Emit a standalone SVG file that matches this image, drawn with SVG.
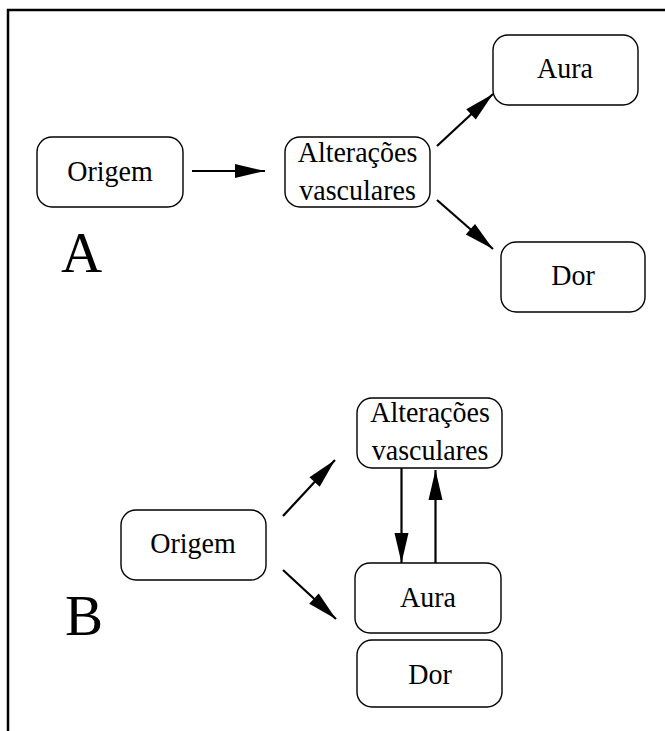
<svg xmlns="http://www.w3.org/2000/svg" width="665" height="731" viewBox="0 0 665 731">
<style>
.box{fill:#fff;stroke:#000;stroke-width:1.4}
.t{font-family:"Liberation Serif","Times New Roman",serif;font-size:28px;text-anchor:middle;fill:#000}
.big{font-family:"Liberation Serif","Times New Roman",serif;font-size:57px;fill:#000}
.e{stroke:#000;stroke-width:2.2;fill:none;marker-end:url(#ah)}
</style>
<defs>
<marker id="ah" markerUnits="userSpaceOnUse" markerWidth="30" markerHeight="14" refX="30" refY="7" orient="auto" overflow="visible">
<path d="M0,0 L30,7 L0,14 z" fill="#000"/>
</marker>
</defs>
<rect width="665" height="731" fill="#fff"/>
<g id="frame"><path d="M8,731 L8,10 L665,10" fill="none" stroke="#000" stroke-width="2.5"/></g>
<g id="connectors">
<line class="e" x1="192" y1="171" x2="265" y2="171"/>
<line class="e" x1="437" y1="146" x2="493" y2="94"/>
<line class="e" x1="437" y1="200" x2="493" y2="249"/>
<line class="e" x1="283" y1="516" x2="335" y2="460"/>
<line class="e" x1="283" y1="570" x2="336" y2="619"/>
<line class="e" x1="401.5" y1="468" x2="401.5" y2="563"/>
<line class="e" x1="435.5" y1="563" x2="435.5" y2="470"/>
</g>
<g id="a-origem"><rect class="box" x="37" y="137" width="146" height="70" rx="15"/><text class="t" transform="translate(110,181) scale(1,1.08)">Origem</text></g>
<g id="a-alteracoes"><rect class="box" x="285" y="137" width="145" height="70" rx="15"/><text class="t" transform="translate(357.5,161.5) scale(1,1.08)">Alterações</text><text class="t" transform="translate(357.5,199.5) scale(1,1.08)">vasculares</text></g>
<g id="a-aura"><rect class="box" x="493" y="35" width="145" height="70" rx="15"/><text class="t" transform="translate(565,78) scale(1,1.08)">Aura</text></g>
<g id="a-dor"><rect class="box" x="501" y="242" width="144" height="70" rx="15"/><text class="t" transform="translate(573,285) scale(1,1.08)">Dor</text></g>
<g id="label-a"><text class="big" x="61" y="272">A</text></g>
<g id="b-origem"><rect class="box" x="121" y="510" width="145" height="70" rx="15"/><text class="t" transform="translate(193,553) scale(1,1.08)">Origem</text></g>
<g id="b-alteracoes"><rect class="box" x="357" y="398" width="145" height="70" rx="15"/><text class="t" transform="translate(430,421.5) scale(1,1.08)">Alterações</text><text class="t" transform="translate(430,460) scale(1,1.08)">vasculares</text></g>
<g id="b-aura"><rect class="box" x="355" y="563" width="146" height="70" rx="15"/><text class="t" transform="translate(428,607) scale(1,1.08)">Aura</text></g>
<g id="b-dor"><rect class="box" x="357" y="640" width="145" height="67" rx="15"/><text class="t" transform="translate(430,684) scale(1,1.08)">Dor</text></g>
<g id="label-b"><text class="big" x="65" y="635">B</text></g>
</svg>
